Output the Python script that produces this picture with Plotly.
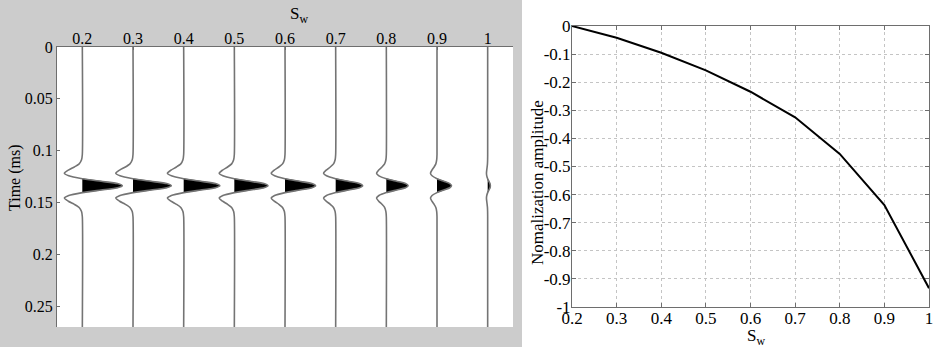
import plotly.graph_objects as go

# ---------------- data ----------------
sw = [0.2, 0.3, 0.4, 0.5, 0.6, 0.7, 0.8, 0.9, 1.0]
norm_amp = [0, -0.042, -0.095, -0.158, -0.234, -0.325, -0.455, -0.637, -0.933]

sw_ticks = [0.2, 0.3, 0.4, 0.5, 0.6, 0.7, 0.8, 0.9, 1.0]
sw_ticktext = ["0.2", "0.3", "0.4", "0.5", "0.6", "0.7", "0.8", "0.9", "1"]
time_ticks = [0, 0.05, 0.1, 0.15, 0.2, 0.25]
time_ticktext = ["0", "0.05", "0.1", "0.15", "0.2", "0.25"]
amp_ticks = [0, -0.1, -0.2, -0.3, -0.4, -0.5, -0.6, -0.7, -0.8, -0.9, -1]
amp_ticktext = ["0", "-0.1", "-0.2", "-0.3", "-0.4", "-0.5", "-0.6", "-0.7", "-0.8", "-0.9", "-1"]

# wavelet shape (time in ms, deflection relative to peak)
wave_t = [0, 0.1037, 0.1087, 0.1127, 0.1157, 0.1187, 0.1217, 0.1242, 0.127,
          0.1295, 0.1317, 0.1337, 0.1357, 0.1379, 0.1404,
          0.1432, 0.1457, 0.1487, 0.1517, 0.1547, 0.1587, 0.1637, 0.27]
wave_a = [0, 0, -0.02, -0.08, -0.2, -0.35, -0.45, -0.34, 0,
          0.47, 0.88, 1, 0.88, 0.47, 0,
          -0.34, -0.45, -0.35, -0.2, -0.08, -0.02, 0, 0]
lobe_start, lobe_end = 8, 14
wiggle_scale = 0.0788

SERIF = "Liberation Serif, Times New Roman, serif"
W, H = 935, 347

fig = go.Figure()

# ---------------- left: wiggle section ----------------
for s, a in zip(sw, norm_amp):
    g = wiggle_scale * (1 + a)
    xs = [s + g * v for v in wave_a]
    fx = xs[lobe_start:lobe_end + 1]
    fy = wave_t[lobe_start:lobe_end + 1]
    fig.add_trace(go.Scatter(x=fx, y=fy, mode="lines", fill="toself",
                             fillcolor="black", line=dict(width=0.5, color="black"),
                             xaxis="x", yaxis="y", showlegend=False, hoverinfo="skip"))
    fig.add_trace(go.Scatter(x=xs, y=wave_t, mode="lines",
                             line=dict(color="#747474", width=1.6, shape="spline", smoothing=0.6),
                             xaxis="x", yaxis="y", showlegend=False))

# ---------------- right: normalized amplitude ----------------
fig.add_trace(go.Scatter(x=sw, y=norm_amp, mode="lines",
                         line=dict(color="black", width=2),
                         xaxis="x2", yaxis="y2", showlegend=False))

def px(x):
    return x / W

def py(y):
    return 1 - y / H

lx0, lx1, ly0, ly1 = 57, 513, 47, 327
rx0, rx1, ry0, ry1 = 572, 929, 26, 307

tickfont = dict(family=SERIF, size=16, color="black")
tickfont2 = dict(family=SERIF, size=17, color="black")
axcol = "#6e6e6e"

fig.update_layout(
    width=W, height=H, autosize=False,
    margin=dict(l=0, r=0, t=0, b=0, pad=0, autoexpand=False),
    paper_bgcolor="white", plot_bgcolor="rgba(0,0,0,0)",
    xaxis=dict(domain=[px(lx0), px(lx1)], range=[0.15, 1.05], side="top",
               tickvals=sw_ticks, ticktext=sw_ticktext, tickfont=tickfont,
               ticks="inside", ticklen=3, tickcolor=axcol, automargin=False,
               ticklabelstandoff=-4,
               showline=True, linecolor=axcol, linewidth=1.2, showgrid=False,
               zeroline=False, anchor="y"),
    yaxis=dict(domain=[py(ly1), py(ly0)], range=[0.27, 0],
               tickvals=time_ticks, ticktext=time_ticktext, tickfont=tickfont,
               ticks="inside", ticklen=3, tickcolor=axcol, automargin=False,
               showline=True, linecolor=axcol, linewidth=1.2, showgrid=False,
               zeroline=False, anchor="x"),
    xaxis2=dict(domain=[px(rx0), px(rx1)], range=[0.2, 1.0],
                tickvals=sw_ticks, ticktext=sw_ticktext, tickfont=tickfont2,
                ticks="inside", ticklen=4, tickcolor=axcol, automargin=False,
                ticklabelstandoff=-4,
                showline=True, linecolor=axcol, linewidth=1, mirror="ticks",
                showgrid=True, gridcolor="#c4c4c4", griddash="dot", gridwidth=1,
                zeroline=False, anchor="y2"),
    yaxis2=dict(domain=[py(ry1), py(ry0)], range=[-1, 0],
                tickvals=amp_ticks, ticktext=amp_ticktext, tickfont=tickfont2,
                ticks="inside", ticklen=4, tickcolor=axcol, automargin=False,
                ticklabelstandoff=-3,
                showline=True, linecolor=axcol, linewidth=1, mirror="ticks",
                showgrid=True, gridcolor="#c4c4c4", griddash="dot", gridwidth=1,
                zeroline=False, anchor="x2"),
    shapes=[
        dict(type="rect", xref="paper", yref="paper", x0=0, x1=px(522), y0=0, y1=1,
             fillcolor="#cccccc", line=dict(width=0), layer="below"),
        dict(type="rect", xref="paper", yref="paper", x0=px(lx0), x1=px(lx1),
             y0=py(ly1), y1=py(ly0), fillcolor="white", line=dict(width=0), layer="below"),
    ],
    annotations=[
        dict(text="S<sub>w</sub>", xref="paper", yref="paper", x=px(299), y=py(15),
             showarrow=False, font=dict(family=SERIF, size=17, color="black"),
             xanchor="center", yanchor="middle"),
        dict(text="Time (ms)", xref="paper", yref="paper", x=px(15), y=py(178),
             showarrow=False, textangle=-90, font=dict(family=SERIF, size=16, color="black"),
             xanchor="center", yanchor="middle"),
        dict(text="S<sub>w</sub>", xref="paper", yref="paper", x=px(756), y=py(337),
             showarrow=False, font=dict(family=SERIF, size=17, color="black"),
             xanchor="center", yanchor="middle"),
        dict(text="Nomalization amplitude", xref="paper", yref="paper", x=px(537), y=py(183),
             showarrow=False, textangle=-90, font=dict(family=SERIF, size=17, color="black"),
             xanchor="center", yanchor="middle"),
    ],
)

fig.write_html(
    "out.html",
    config={"displayModeBar": False},
    post_script="document.body.style.margin='0px';document.body.style.padding='0px';"
                "document.documentElement.style.overflow='hidden';",
)
